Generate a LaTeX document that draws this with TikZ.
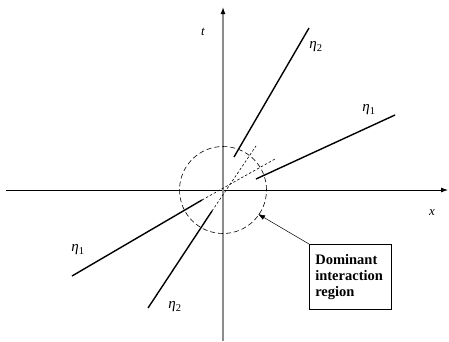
\documentclass[tikz,border=0pt]{standalone}
\usepackage{fontspec}
\setmainfont{Liberation Serif}
\usetikzlibrary{arrows.meta}
\begin{document}
\begin{tikzpicture}[x=1pt,y=1pt,
  axisarrow/.style={-{Latex[length=7pt,width=5pt]}},
  wave/.style={line width=1.4pt,black},
  extn/.style={line width=0.6pt,dash pattern=on 2.5pt off 2pt},
  lbl/.style={font=\fontsize{13}{13}\selectfont,inner sep=0pt},
  eta/.style={font=\fontsize{15}{15}\selectfont,inner sep=0pt}]
\useasboundingbox (0,0) rectangle (449,-341);
% axes
\coordinate (xl) at (6,-190);
\coordinate (xr) at (448,-190);
\coordinate (tb) at (223,-341);
\coordinate (tt) at (223,-7);
\coordinate (O) at (223,-190);
\draw[axisarrow,line width=0.8pt,black] (xl) -- (xr);
\draw[axisarrow,line width=1.3pt,black!45,-{Latex[length=7pt,width=5pt,black]}] (tb) -- (tt);
\node[lbl,font=\fontsize{13}{13}\selectfont\itshape] (tlab) at (203,-32) {t};
\node[lbl,font=\fontsize{13}{13}\selectfont\itshape] (xlab) at (432,-213) {x};
% interaction circle
\node[draw,circle,dashed,dash pattern=on 5pt off 3pt,line width=0.6pt,minimum size=87pt,inner sep=0pt] (circ) at (O) {};
% wave lines
\coordinate (a1) at (234,-157); \coordinate (a2) at (309,-28);
\coordinate (b1) at (256,-179); \coordinate (b2) at (395,-115);
\coordinate (c1) at (72,-276);  \coordinate (c2) at (202,-200); \coordinate (c3) at (275,-159);
\coordinate (d1) at (148,-308); \coordinate (d2) at (212,-211); \coordinate (d3) at (256,-146);
\draw[wave] (a1) -- (a2);
\draw[wave] (b1) -- (b2);
\draw[wave] (c1) -- (c2);
\draw[wave] (d1) -- (d2);
\draw[extn] (c2) -- (c3);
\draw[extn] (d2) -- (d3);
\node[eta] (e2u) at (316,-47) {\textit{η}\textsubscript{2}};
\node[eta] (e1u) at (369,-110) {\textit{η}\textsubscript{1}};
\node[eta] (e1l) at (78,-250) {\textit{η}\textsubscript{1}};
\node[eta] (e2l) at (175,-307) {\textit{η}\textsubscript{2}};
% label box
\node[draw,line width=0.6pt,anchor=north west,minimum width=80pt,minimum height=65pt,text width=70pt,align=left,inner xsep=6pt,inner ysep=4pt,font=\fontsize{14.5}{16}\selectfont\bfseries] (box) at (309,-244) {Dominant\\interaction\\region};
\coordinate (ahit) at (258,-214);
\draw[line width=0.5pt,-{Latex[length=7pt,width=5pt]}] (box.north west) -- (ahit);
\end{tikzpicture}
\end{document}
